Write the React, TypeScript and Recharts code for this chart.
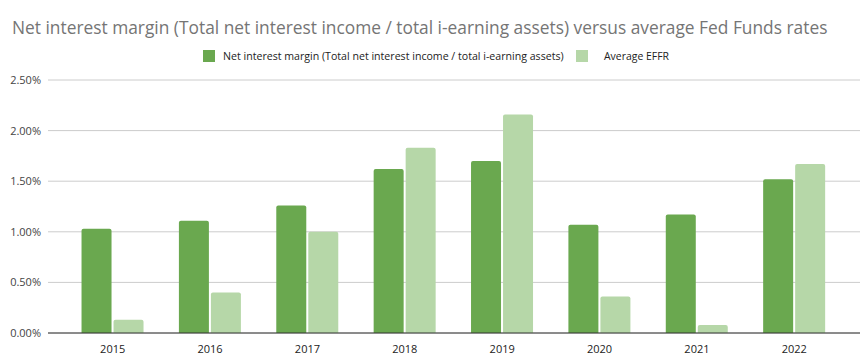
import React, { useLayoutEffect, useRef, useState } from 'react';
import { BarChart, Bar, XAxis, YAxis, CartesianGrid } from 'recharts';

const years = ['2015', '2016', '2017', '2018', '2019', '2020', '2021', '2022'];
const netInterestMargin = [1.03, 1.11, 1.26, 1.62, 1.7, 1.07, 1.17, 1.52];
const averageEffr = [0.13, 0.4, 1.0, 1.83, 2.16, 0.36, 0.08, 1.67];
const yTicks = [0, 0.5, 1, 1.5, 2, 2.5];

const chartTitle =
  'Net interest margin (Total net interest income / total i-earning assets) versus average Fed Funds rates';
const nimLabel = 'Net interest margin (Total net interest income / total i-earning assets)';
const effrLabel = 'Average EFFR';

const NIM_COLOR = '#6aa84f';
const EFFR_COLOR = '#b6d7a8';
const FONT = "'Liberation Sans Narrow', 'Open Sans', Arial, sans-serif";

const data = years.map((year, i) => ({
  year,
  nim: netInterestMargin[i],
  effr: averageEffr[i],
}));

// text squeezed horizontally to a target width (reference uses a narrow font)
function FitText({ x, y, width, size, fill, children }: any) {
  const ref = useRef<SVGTextElement>(null);
  const [sx, setSx] = useState(1);
  useLayoutEffect(() => {
    if (ref.current) {
      const w = ref.current.getComputedTextLength();
      if (w > 0) setSx(width / w);
    }
  }, [width, children]);
  return (
    <g transform={`translate(${x},${y}) scale(${sx},1)`}>
      <text ref={ref} x={0} y={0} fontSize={size} fill={fill} fontFamily={FONT}>
        {children}
      </text>
    </g>
  );
}

export default function App() {
  return (
    <div style={{ position: 'absolute', left: 0, top: 0, width: 868, height: 362, background: '#fff', fontFamily: FONT }}>
      <BarChart
        width={868}
        height={362}
        data={data}
        margin={{ top: 80, right: 8, left: 0, bottom: 0 }}
        barCategoryGap="18%"
        barGap={2}
      >
        <CartesianGrid vertical={false} stroke="#cccccc" />
        <XAxis
          dataKey="year"
          height={29}
          padding={{ left: 16, right: 17 }}
          axisLine={{ stroke: '#333333' }}
          tickLine={false}
          tickMargin={6}
          tick={{ fontSize: 11, fill: '#222222', fontFamily: FONT }}
        />
        <YAxis
          width={48}
          domain={[0, 2.5]}
          ticks={yTicks}
          axisLine={false}
          tickLine={false}
          tickSize={0}
          tickMargin={7}
          tickFormatter={(v: number) => `${v.toFixed(2)}%`}
          tick={{ fontSize: 11, fill: '#444444', fontFamily: FONT }}
        />
        <Bar dataKey="nim" name={nimLabel} fill={NIM_COLOR} radius={[2, 2, 0, 0]} isAnimationActive={false} />
        <Bar dataKey="effr" name={effrLabel} fill={EFFR_COLOR} radius={[2, 2, 0, 0]} isAnimationActive={false} />
      </BarChart>

      {/* title + legend overlay */}
      <svg width={868} height={80} style={{ position: 'absolute', left: 0, top: 0 }}>
        <FitText x={12} y={34} width={816} size={18.5} fill="#757575">
          {chartTitle}
        </FitText>
        <rect x={203} y={50} width={12} height={12} fill={NIM_COLOR} />
        <FitText x={223} y={60} width={341} size={11} fill="#222222">
          {nimLabel}
        </FitText>
        <rect x={576} y={50} width={12} height={12} fill={EFFR_COLOR} />
        <FitText x={604} y={60} width={65} size={11} fill="#222222">
          {effrLabel}
        </FitText>
      </svg>
    </div>
  );
}
